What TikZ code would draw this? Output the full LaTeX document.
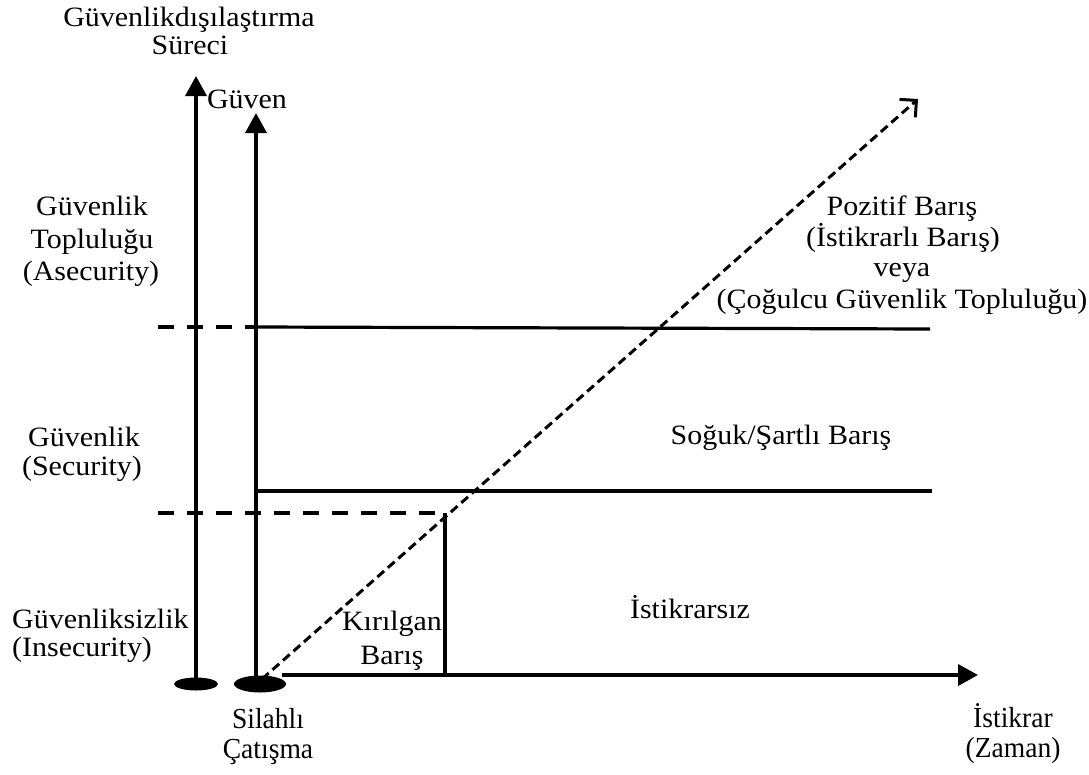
\documentclass[tikz,border=0pt]{standalone}
\usepackage{fontspec}
\setmainfont{Liberation Serif}[FakeStretch=1.07]
\newfontfamily\narrowserif{Liberation Serif}[FakeStretch=0.95]
\usetikzlibrary{arrows.meta,shapes.geometric}
\begin{document}
\begin{tikzpicture}[x=1pt,y=-1pt,
 lbl/.style={inner sep=0pt, anchor=base, font=\fontsize{28}{30}\selectfont},
 lblw/.style={inner sep=0pt, anchor=base west, font=\fontsize{28}{30}\selectfont},
 lblb/.style={inner sep=0pt, anchor=base, font=\narrowserif\fontsize{29}{31}\selectfont},
 axisline/.style={line width=3.6pt},
 bigtip/.style={-{Triangle[length=20pt,width=21pt]}},
 guide/.style={line width=3.4pt, dash pattern=on 16pt off 13pt},
 level/.style={line width=3.2pt},
 trend/.style={line width=3pt, dash pattern=on 9pt off 5pt,
   -{Straight Barb[length=12pt,width=24pt,line width=3pt]}},
 blob/.style={ellipse, fill=black, inner sep=0pt}]
\useasboundingbox (0,0) rectangle (1089,774);

% base blobs
\node[blob, minimum width=44pt, minimum height=13pt] (e1) at (196,684) {};
\node[blob, minimum width=52pt, minimum height=17pt] (e2) at (260,684) {};

% axis endpoints
\coordinate (t1) at (196,76);
\coordinate (t2) at (256,113);
\coordinate (b2) at (256,684);
\coordinate (hx0) at (282,675);
\coordinate (hx1) at (978,675);
\coordinate (d0) at (262,679);
\coordinate (d1) at (918,99);

% level lines
\coordinate (g1a) at (158,327);
\coordinate (g1b) at (256,327);
\coordinate (l1b) at (930,329);
\coordinate (l2a) at (256,491);
\coordinate (l2b) at (932,491);
\coordinate (g2a) at (158,513);
\coordinate (k1) at (445,513);
\coordinate (k2) at (445,675);

\draw[axisline,bigtip] (e1.center) -- (t1);
\draw[axisline,bigtip] (b2) -- (t2);
\draw[axisline,bigtip] (hx0) -- (hx1);

\draw[guide] (g1a) -- (g1b);
\draw[level] (g1b) -- (l1b);
\draw[level] (l2a) -- (l2b);
\draw[guide] (g2a) -- (k1);
\draw[level] (k1) -- (k2);

\draw[trend] (d0) -- (d1);

% labels
\node[lbl] (ttl1) at (189,26) {Güvenlikdışılaştırma};
\node[lbl] (ttl2) at (190,54) {Süreci};
\node[lbl] (guven) at (247,108) {Güven};

\node[lbl] (a1) at (92,215) {Güvenlik};
\node[lbl] (a2) at (92,248) {Topluluğu};
\node[lbl] (a3) at (91,280) {(Asecurity)};

\node[lbl] (s1) at (84,446) {Güvenlik};
\node[lbl] (s2) at (82,475) {(Security)};

\node[lblw] (i1) at (12,628) {Güvenliksizlik};
\node[lblw] (i2) at (12,656) {(Insecurity)};

\node[lbl] (p1) at (902,215) {Pozitif Barış};
\node[lbl] (p2) at (903,246) {(İstikrarlı Barış)};
\node[lbl] (p3) at (902,276) {veya};
\node[lbl] (p4) at (902,308) {(Çoğulcu Güvenlik Topluluğu)};

\node[lbl] (soguk) at (781,444) {Soğuk/Şartlı Barış};
\node[lbl] (istsiz) at (690,618) {İstikrarsız};
\node[lbl] (kir1) at (392,630) {Kırılgan};
\node[lbl] (kir2) at (392,664) {Barış};

\node[lblb] (sil1) at (268,728) {Silahlı};
\node[lblb] (sil2) at (268,758) {Çatışma};
\node[lblb] (ist1) at (1013,727) {İstikrar};
\node[lblb] (ist2) at (1013,757) {(Zaman)};
\end{tikzpicture}
\end{document}
